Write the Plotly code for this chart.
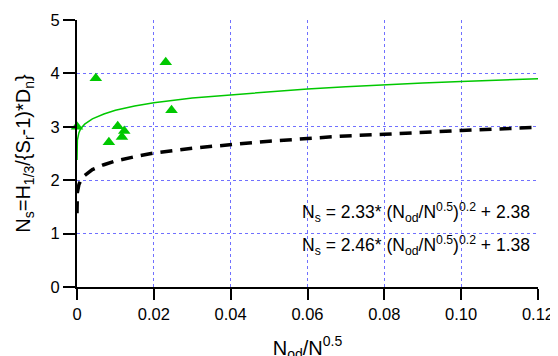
import plotly.graph_objects as go

# measured points
obs_x = [0.0, 0.0049, 0.0106, 0.0123, 0.0117, 0.0083, 0.0231, 0.0246]
obs_y = [3.0, 3.91, 3.01, 2.92, 2.81, 2.71, 4.21, 3.31]

# fitted curves
curve_x = [0, 0.0001, 0.0005, 0.001, 0.002, 0.004, 0.007, 0.01, 0.015, 0.02,
           0.03, 0.04, 0.05, 0.06, 0.07, 0.08, 0.09, 0.10, 0.11, 0.12]
fit_upper = [2.38, 2.75, 2.89, 2.97, 3.05, 3.15, 3.24, 3.31, 3.39, 3.45,
             3.54, 3.60, 3.66, 3.71, 3.75, 3.79, 3.82, 3.85, 3.88, 3.90]
fit_lower = [1.38, 1.77, 1.92, 2.00, 2.09, 2.20, 2.29, 2.36, 2.44, 2.51,
             2.60, 2.67, 2.73, 2.78, 2.83, 2.86, 2.90, 2.93, 2.96, 2.99]

x_ticks = [0, 0.02, 0.04, 0.06, 0.08, 0.10, 0.12]
x_tick_text = ["0", "0.02", "0.04", "0.06", "0.08", "0.10", "0.12"]
y_ticks = [0, 1, 2, 3, 4, 5]

GREEN = "#00c800"
GRID = "#7070ff"
FONT = dict(family="Liberation Sans, Arial", size=16.5, color="black")
ANN_FONT = dict(family="Liberation Sans, Arial", size=17.5, color="black")

fig = go.Figure()
fig.add_trace(go.Scatter(
    x=curve_x, y=fit_lower, mode="lines",
    line=dict(color="black", width=3.5, dash="12px,8px"),
))
fig.add_trace(go.Scatter(
    x=curve_x, y=fit_upper, mode="lines",
    line=dict(color=GREEN, width=1.5),
))
fig.add_trace(go.Scatter(
    x=obs_x, y=obs_y, mode="markers", cliponaxis=False,
    marker=dict(symbol="triangle-up", size=11, color=GREEN),
))

fig.add_annotation(
    x=0.1185, y=1.39, xanchor="right", yanchor="middle", showarrow=False,
    text="N<sub>s</sub> = 2.33* (N<sub>od</sub>/N<sup>0.5</sup>)<sup>0.2</sup> + 2.38",
    font=ANN_FONT,
)
fig.add_annotation(
    x=0.1185, y=0.77, xanchor="right", yanchor="middle", showarrow=False,
    text="N<sub>s</sub> = 2.46* (N<sub>od</sub>/N<sup>0.5</sup>)<sup>0.2</sup> + 1.38",
    font=ANN_FONT,
)

fig.update_xaxes(
    range=[0, 0.12], tickvals=x_ticks, ticktext=x_tick_text,
    showgrid=True, gridcolor=GRID, griddash="dot", gridwidth=1,
    showline=True, linecolor="black", linewidth=2,
    ticks="outside", ticklen=11, tickwidth=2, tickcolor="black",
    zeroline=False, automargin=False,
    title=dict(text="N<sub>od</sub>/N<sup>0.5</sup>", standoff=19),
)
fig.update_yaxes(
    range=[0, 5], tickvals=y_ticks,
    showgrid=True, gridcolor=GRID, griddash="dot", gridwidth=1,
    showline=True, linecolor="black", linewidth=2,
    ticks="outside", ticklen=12, tickwidth=2, tickcolor="black",
    zeroline=False, automargin=False,
    title=dict(text="N<sub>s</sub>=H<sub>1/3</sub>/{S<sub>r</sub>-1)*D<sub>n</sub>}", standoff=15),
)
# page body has an 8px offset, so margins are shifted to match
fig.update_layout(
    width=558, height=356,
    margin=dict(l=69, r=28, t=12, b=77),
    paper_bgcolor="white", plot_bgcolor="white",
    showlegend=False, font=FONT,
)

fig.write_html("out.html")
